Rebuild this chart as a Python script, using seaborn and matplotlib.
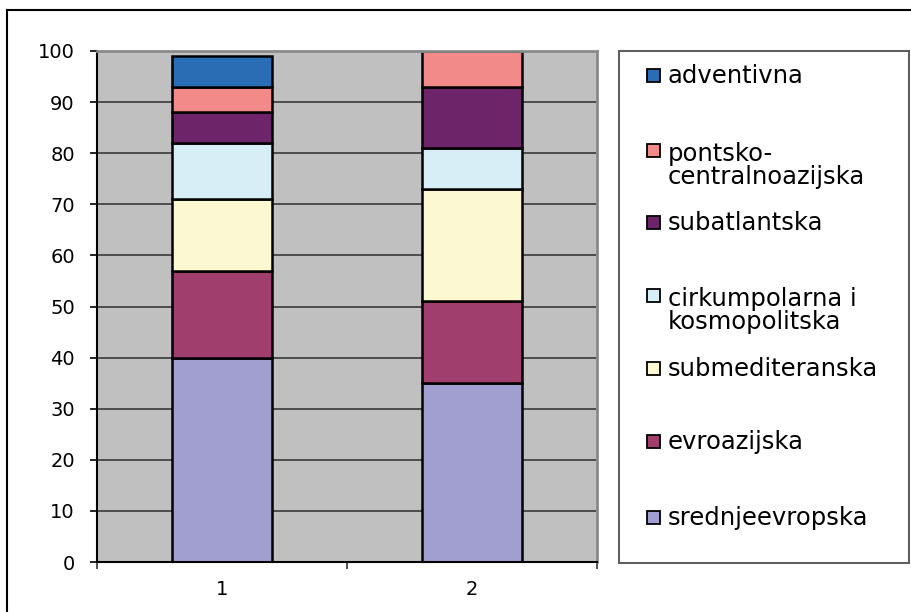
import numpy as np
import pandas as pd
import matplotlib
matplotlib.use("Agg")
import matplotlib.pyplot as plt
import seaborn as sns
from matplotlib.patches import Rectangle
from matplotlib.lines import Line2D
from matplotlib.ticker import MultipleLocator, FixedLocator

# Floral elements (%) for the two localities
categories = [1, 2]
groups = [
    "adventivna",
    "pontsko-\ncentralnoazijska",
    "subatlantska",
    "cirkumpolarna i\nkosmopolitska",
    "submediteranska",
    "evroazijska",
    "srednjeevropska",
]
adventivna = [6, 0]
pontsko_centralnoazijska = [5, 7]
subatlantska = [6, 12]
cirkumpolarna_kosmopolitska = [11, 8]
submediteranska = [14, 22]
evroazijska = [17, 16]
srednjeevropska = [40, 35]
colors = ["#2A6DB5", "#F28A8A", "#6D2468", "#D8EEF6", "#FCF8D2", "#A03E6D", "#A09FCF"]

series = [adventivna, pontsko_centralnoazijska, subatlantska,
          cirkumpolarna_kosmopolitska, submediteranska, evroazijska, srednjeevropska]
rows = []
for name, vals in zip(groups, series):
    for c, v in zip(categories, vals):
        rows.append({"lokalitet": c, "skupina": name, "udio": v})
df = pd.DataFrame(rows)

W, H = 912, 612
fig = plt.figure(figsize=(W / 100, H / 100), dpi=100)
fx = lambda px: px / W
fy = lambda py: 1 - py / H

ax = fig.add_axes([fx(97), fy(562), (597 - 97) / W, (562 - 51) / H])
ax.set_facecolor("#C0C0C0")
ax.set_axisbelow(True)

sns.histplot(
    data=df, x="lokalitet", weights="udio", hue="skupina", hue_order=groups,
    palette=dict(zip(groups, colors)), multiple="stack", discrete=True,
    shrink=0.4, alpha=1, edgecolor="black", linewidth=1.8, legend=False, ax=ax,
)

ax.set_xlim(0.5, 2.5)
ax.set_ylim(0, 100)
ax.set_xlabel("")
ax.set_ylabel("")

ax.yaxis.set_major_locator(MultipleLocator(10))
ax.yaxis.grid(True, color="#3A3A3A", linewidth=1.2)
ax.xaxis.grid(False)

ax.xaxis.set_major_locator(FixedLocator(categories))
ax.set_xticklabels([str(c) for c in categories])
ax.xaxis.set_minor_locator(FixedLocator([0.5, 1.5, 2.5]))
ax.tick_params(axis="x", which="major", length=0, pad=13, labelsize=14)
ax.tick_params(axis="x", which="minor", length=5, width=1.2, direction="out", color="#333333")
ax.tick_params(axis="y", which="major", length=5, width=1.2, direction="out", pad=11, labelsize=14)

for side in ("left", "bottom"):
    ax.spines[side].set_color("black")
    ax.spines[side].set_linewidth(1.5)
for side in ("top", "right"):
    ax.spines[side].set_color("#8A8A8A")
    ax.spines[side].set_linewidth(2)

# Outer chart frame (top and left edges)
fig.add_artist(Line2D([fx(7), 1.0], [fy(10), fy(10)], color="black", lw=1.5,
                      transform=fig.transFigure))
fig.add_artist(Line2D([fx(7), fx(7)], [fy(10), 0.0], color="black", lw=1.5,
                      transform=fig.transFigure))

# Legend panel: marker sits beside the first line of each label
fig.add_artist(Rectangle((fx(619), fy(563)), (909 - 619) / W, (563 - 51) / H,
                         transform=fig.transFigure, facecolor="white",
                         edgecolor="#606060", lw=1.5))
baselines = [83, 158, 230, 303, 376, 449, 525]
line_step = 26
for name, col, yb in zip(groups, colors, baselines):
    fig.add_artist(Rectangle((fx(647), fy(yb - 1)), 13 / W, 13 / H,
                             transform=fig.transFigure, facecolor=col,
                             edgecolor="black", lw=1.3))
    extra = name.count("\n") * line_step
    fig.text(fx(668), fy(yb + extra), name, fontsize=17.5, va="baseline", ha="left",
             linespacing=0.95, color="black")

fig.savefig("out.png", dpi=100)
